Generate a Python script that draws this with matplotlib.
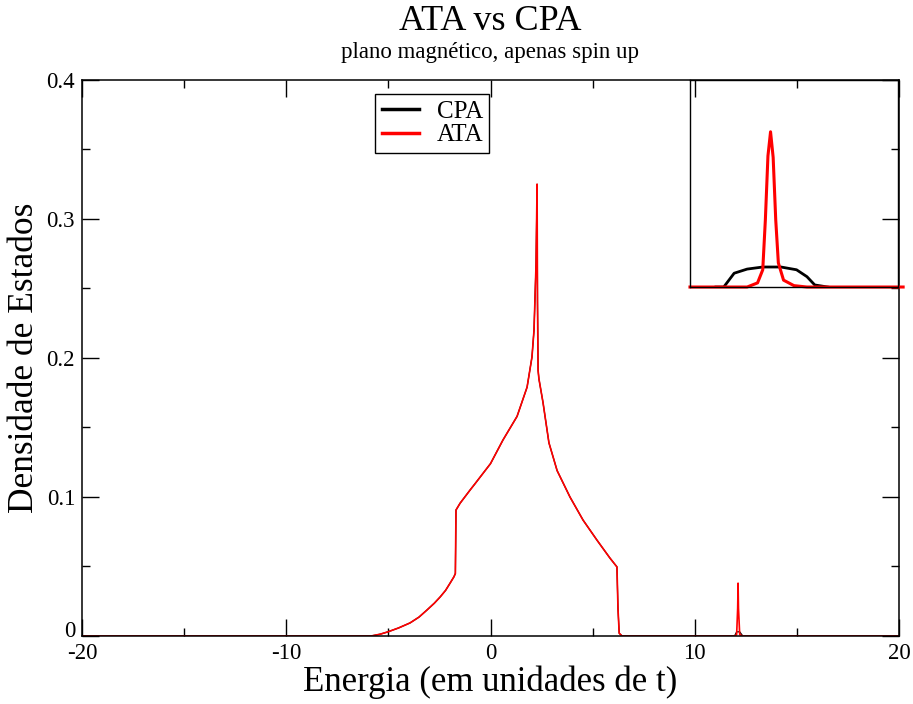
import numpy as np
import matplotlib
matplotlib.use("Agg")
import matplotlib.pyplot as plt
import matplotlib.transforms as mtransforms
from matplotlib.ticker import MultipleLocator

plt.rcParams["font.family"] = ["Liberation Serif", "DejaVu Serif"]
plt.rcParams["axes.unicode_minus"] = False

# ── Data ────────────────────────────────────────────────────────────────
# main band (CPA and ATA coincide here, CPA is hidden under ATA)
band_E = [-20.0, -5.85, -5.40, -5.02, -4.50, -3.94, -3.50, -3.11, -2.75,
          -2.47, -2.20, -1.98, -1.79, -1.72, -1.69, -1.49, -1.0, -0.76,
          0.0, 0.61, 1.30, 1.79, 2.03, 2.13, 2.23, 2.28, 2.30, 2.33, 2.37,
          2.57, 2.77, 2.86, 3.26, 3.89, 4.53, 5.21, 5.85, 6.19, 6.24, 6.30,
          6.44, 11.9]
band_dos = [0.0, 0.0, 0.0013, 0.003, 0.0058, 0.0094, 0.0136, 0.0187,
            0.0236, 0.028, 0.0328, 0.038, 0.0426, 0.045, 0.0906, 0.0955,
            0.105, 0.1095, 0.124, 0.141, 0.158, 0.179, 0.2007, 0.22, 0.268,
            0.325, 0.24, 0.191, 0.185, 0.168, 0.148, 0.139, 0.119, 0.100,
            0.0834, 0.069, 0.056, 0.0497, 0.02, 0.002, 0.0, 0.0]

# impurity band near E = 12
imp_E = [11.95, 12.05, 12.10, 12.12, 12.14, 12.20, 12.35, 20.0]
cpa_imp = [0.0, 0.003, 0.003, 0.003, 0.003, 0.003, 0.0, 0.0]
ata_imp = [0.0, 0.001, 0.02, 0.038, 0.02, 0.001, 0.0, 0.0]

# inset (zoom of the impurity band)
ins_E_ata = [11.80, 12.02, 12.06, 12.08, 12.09, 12.10, 12.11, 12.12,
             12.13, 12.14, 12.16, 12.20, 12.25, 12.62]
ins_ata = [0.0, 0.0, 0.0006, 0.0025, 0.0097, 0.019, 0.0225, 0.0188,
           0.0097, 0.0035, 0.001, 0.0002, 0.0, 0.0]
ins_E_cpa = [11.90, 11.93, 11.97, 12.02, 12.08, 12.15, 12.21, 12.25,
             12.28, 12.33]
ins_cpa = [0.0, 0.0, 0.002, 0.0026, 0.0029, 0.0029, 0.0025, 0.0015,
           0.0003, 0.0]

# ── Figure ─────────────────────────────────────────────────────────────
fig = plt.figure(figsize=(9.13, 7.04), dpi=100)
ax = fig.add_axes([0.0898, 0.0966, 0.8949, 0.7898])

ax.plot(band_E + imp_E, band_dos + cpa_imp, color="black", lw=0.9,
        label="CPA")
ax.plot(band_E + imp_E, band_dos + ata_imp, color="red", lw=1.2,
        label="ATA")

ax.set_xlim(-20, 20)
ax.set_ylim(0, 0.4)
ax.xaxis.set_major_locator(MultipleLocator(10))
ax.xaxis.set_minor_locator(MultipleLocator(5))
ax.yaxis.set_minor_locator(MultipleLocator(0.05))
ax.set_yticks([0, 0.1, 0.2, 0.3, 0.4])
ax.set_yticklabels(["0", "0.1", "0.2", "0.3", "0.4"])
ax.tick_params(which="both", direction="in", top=True, right=True,
               width=1, labelsize=16.5)
ax.tick_params(which="major", length=12)
ax.tick_params(which="minor", length=6)
ax.tick_params(axis="x", pad=5)
ax.tick_params(axis="y", pad=5)
for s in ax.spines.values():
    s.set_linewidth(1.1)

# the "0" label sits a bit above its tick, as in the original
zero_lbl = ax.get_yticklabels()[0]
zero_lbl.set_transform(zero_lbl.get_transform() +
                       mtransforms.ScaledTranslation(0, 5 / 72,
                                                     fig.dpi_scale_trans))

ax.set_xlabel("Energia (em unidades de t)", fontsize=25, labelpad=1)
ax.set_ylabel("Densidade de Estados", fontsize=25.5, labelpad=4)

leg = ax.legend(loc="upper left", bbox_to_anchor=(0.359, 0.975),
                fontsize=18, handlelength=1.5, labelspacing=0.05,
                borderpad=0.25, handletextpad=0.7, fancybox=False,
                framealpha=1, edgecolor="black", borderaxespad=0)
leg.get_frame().set_linewidth(1.0)
for line in leg.get_lines():
    line.set_linewidth(2.5)

fig.text(0.537, 0.957, "ATA vs CPA", ha="center", va="baseline",
         fontsize=26)
fig.text(0.537, 0.918, "plano magnético, apenas spin up", ha="center",
         va="baseline", fontsize=16.5)

# ── Inset ──────────────────────────────────────────────────────────────
axin = fig.add_axes([0.7557, 0.5923, 0.2278, 0.294])
axin.set_facecolor("none")
axin.plot(ins_E_cpa, ins_cpa, color="black", lw=2)
axin.plot(ins_E_ata, ins_ata, color="red", lw=2.2, clip_on=False)
axin.set_xlim(11.8, 12.6)
axin.set_ylim(0, 0.03)
axin.set_xticks([])
axin.set_yticks([])
for s in axin.spines.values():
    s.set_linewidth(1.0)

fig.savefig("out.png", dpi=100)
